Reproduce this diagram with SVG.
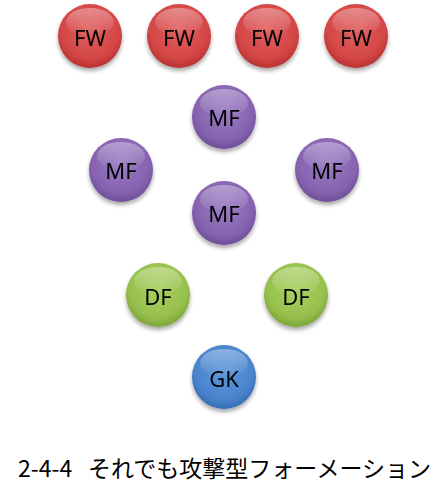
<svg xmlns="http://www.w3.org/2000/svg" width="446" height="500" viewBox="0 0 446 500">
<defs>
<radialGradient id="gRed" cx="0.5" cy="0.4" r="0.6">
<stop offset="0" stop-color="#e06060"/><stop offset="0.75" stop-color="#d44646"/><stop offset="1" stop-color="#b83232"/>
</radialGradient>
<radialGradient id="gPur" cx="0.5" cy="0.4" r="0.6">
<stop offset="0" stop-color="#9a7cc4"/><stop offset="0.75" stop-color="#8663b0"/><stop offset="1" stop-color="#6e4e98"/>
</radialGradient>
<radialGradient id="gGrn" cx="0.5" cy="0.4" r="0.6">
<stop offset="0" stop-color="#a8d060"/><stop offset="0.75" stop-color="#96c04c"/><stop offset="1" stop-color="#7ca43a"/>
</radialGradient>
<radialGradient id="gBlu" cx="0.5" cy="0.4" r="0.6">
<stop offset="0" stop-color="#5c96dc"/><stop offset="0.75" stop-color="#4a84cc"/><stop offset="1" stop-color="#346cb2"/>
</radialGradient>
<linearGradient id="gHi" x1="0" y1="0" x2="0" y2="1">
<stop offset="0" stop-color="#fff" stop-opacity="0.35"/><stop offset="1" stop-color="#fff" stop-opacity="0"/>
</linearGradient>
<filter id="sh" x="-30%" y="-30%" width="160%" height="170%">
<feGaussianBlur in="SourceAlpha" stdDeviation="2"/>
<feOffset dy="3"/>
<feComponentTransfer><feFuncA type="linear" slope="0.35"/></feComponentTransfer>
<feMerge><feMergeNode/><feMergeNode in="SourceGraphic"/></feMerge>
</filter>
</defs>
<style>
.lbl{font-family:"Noto Sans","Liberation Sans",sans-serif;font-size:22px;fill:#000;text-anchor:middle;dominant-baseline:central}
.hi{fill:url(#gHi)}
.cap{font-family:"Noto Sans CJK JP","Noto Sans",sans-serif;font-size:23px;fill:#000}
</style>
<g id="connectors"/>
<g id="fw1" filter="url(#sh)"><circle cx="90" cy="36" r="32" fill="url(#gRed)"/><ellipse cx="90" cy="22" rx="24" ry="14" class="hi"/><text x="90" y="37" class="lbl">FW</text></g>
<g id="fw2" filter="url(#sh)"><circle cx="179" cy="36" r="32" fill="url(#gRed)"/><ellipse cx="179" cy="22" rx="24" ry="14" class="hi"/><text x="179" y="37" class="lbl">FW</text></g>
<g id="fw3" filter="url(#sh)"><circle cx="267" cy="36" r="32" fill="url(#gRed)"/><ellipse cx="267" cy="22" rx="24" ry="14" class="hi"/><text x="267" y="37" class="lbl">FW</text></g>
<g id="fw4" filter="url(#sh)"><circle cx="356" cy="36" r="32" fill="url(#gRed)"/><ellipse cx="356" cy="22" rx="24" ry="14" class="hi"/><text x="356" y="37" class="lbl">FW</text></g>
<g id="mf1" filter="url(#sh)"><circle cx="224" cy="117" r="32" fill="url(#gPur)"/><ellipse cx="224" cy="103" rx="24" ry="14" class="hi"/><text x="224" y="117" class="lbl">MF</text></g>
<g id="mf2" filter="url(#sh)"><circle cx="121" cy="170" r="32" fill="url(#gPur)"/><ellipse cx="121" cy="156" rx="24" ry="14" class="hi"/><text x="121" y="170" class="lbl">MF</text></g>
<g id="mf3" filter="url(#sh)"><circle cx="327" cy="170" r="32" fill="url(#gPur)"/><ellipse cx="327" cy="156" rx="24" ry="14" class="hi"/><text x="327" y="170" class="lbl">MF</text></g>
<g id="mf4" filter="url(#sh)"><circle cx="224" cy="213" r="32" fill="url(#gPur)"/><ellipse cx="224" cy="199" rx="24" ry="14" class="hi"/><text x="224" y="213" class="lbl">MF</text></g>
<g id="df1" filter="url(#sh)"><circle cx="158" cy="295" r="32" fill="url(#gGrn)"/><ellipse cx="158" cy="281" rx="24" ry="14" class="hi"/><text x="158" y="296" class="lbl">DF</text></g>
<g id="df2" filter="url(#sh)"><circle cx="296" cy="295" r="32" fill="url(#gGrn)"/><ellipse cx="296" cy="281" rx="24" ry="14" class="hi"/><text x="296" y="296" class="lbl">DF</text></g>
<g id="gk" filter="url(#sh)"><circle cx="224" cy="377" r="32" fill="url(#gBlu)"/><ellipse cx="224" cy="363" rx="24" ry="14" class="hi"/><text x="224" y="378" class="lbl">GK</text></g>
<g id="caption">
<text x="18" y="477" class="cap">2-4-4</text>
<text x="88" y="477" class="cap">それでも攻撃型フォーメーション</text>
</g>
</svg>
